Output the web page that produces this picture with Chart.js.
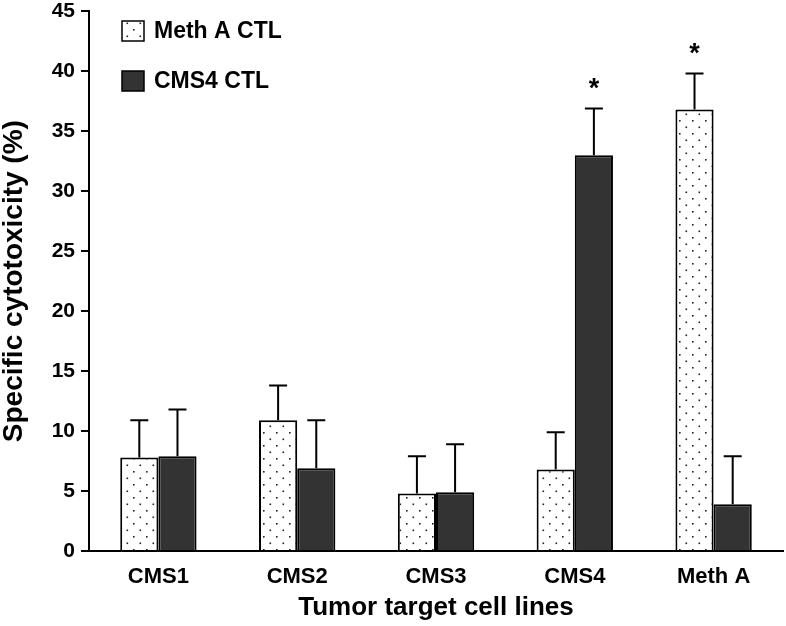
<!DOCTYPE html>
<html lang="en">
<head>
<meta charset="UTF-8">
<title>Specific cytotoxicity</title>
<style>
    body { margin: 0; background: #fff; }
    canvas { display: block; }
</style>
</head>
<body>
<canvas id="chart" width="786" height="626"></canvas>
<script src="https://cdn.jsdelivr.net/npm/chart.js"></script>
<script>
// data
const categories = ['CMS1', 'CMS2', 'CMS3', 'CMS4', 'Meth A'];
const methA = [7.8, 10.9, 4.8, 6.8, 36.8];
const methAErr = [3.1, 2.9, 3.1, 3.1, 3.0];
const cms4 = [7.9, 6.9, 4.9, 33.0, 3.9];
const cms4Err = [3.9, 4.0, 4.0, 3.9, 4.0];
// asterisks (significance) per bar
const methASig = [false, false, false, false, true];
const cms4Sig = [false, false, false, true, false];

const FONT = "'Liberation Sans', Arial, Helvetica, sans-serif";
Chart.defaults.font.family = FONT;
Chart.defaults.color = '#000';

const canvas = document.getElementById('chart');
const ctx = canvas.getContext('2d');

// dotted fill used for the Meth A CTL bars
function dotPattern() {
    const p = document.createElement('canvas');
    p.width = 13;
    p.height = 13;
    const c = p.getContext('2d');
    c.fillStyle = '#fff';
    c.fillRect(0, 0, 13, 13);
    c.fillStyle = '#222';
    c.fillRect(3, 3, 1.6, 1.6);
    c.fillRect(9.5, 9.5, 1.6, 1.6);
    return ctx.createPattern(p, 'repeat');
}
const dots = dotPattern();

const errorBars = {
    id: 'errorBars',
    afterDatasetsDraw(chart) {
        const c = chart.ctx;
        const y = chart.scales.y;
        c.save();
        c.strokeStyle = '#000';
        c.lineWidth = 2;
        chart.data.datasets.forEach((ds, i) => {
            const meta = chart.getDatasetMeta(i);
            meta.data.forEach((bar, j) => {
                const top = y.getPixelForValue(ds.data[j] + ds.errors[j]);
                c.beginPath();
                c.moveTo(bar.x, bar.y);
                c.lineTo(bar.x, top);
                c.moveTo(bar.x - 9, top);
                c.lineTo(bar.x + 9, top);
                c.stroke();
                if (ds.sig[j]) {
                    c.fillStyle = '#000';
                    c.font = 'bold 27px ' + FONT;
                    c.textAlign = 'center';
                    c.textBaseline = 'middle';
                    c.fillText('*', bar.x, top - 19);
                }
            });
        });
        c.restore();
    }
};

const boxLegend = {
    id: 'boxLegend',
    afterDraw(chart) {
        const c = chart.ctx;
        c.save();
        chart.data.datasets.forEach((ds, i) => {
            const top = 21 + i * 50;
            c.fillStyle = ds.backgroundColor;
            c.fillRect(122, top, 22, 20);
            c.strokeStyle = '#000';
            c.lineWidth = 1.5;
            c.strokeRect(122, top, 22, 20);
            c.fillStyle = '#000';
            c.font = 'bold 23px ' + FONT;
            c.textAlign = 'left';
            c.textBaseline = 'middle';
            c.fillText(ds.label, 154, top + 11);
        });
        c.restore();
    }
};

new Chart(ctx, {
    type: 'bar',
    data: {
        labels: categories,
        datasets: [
            {
                label: 'Meth A CTL',
                data: methA,
                errors: methAErr,
                sig: methASig,
                backgroundColor: dots,
                borderColor: '#000',
                borderWidth: 2
            },
            {
                label: 'CMS4 CTL',
                data: cms4,
                errors: cms4Err,
                sig: cms4Sig,
                backgroundColor: '#333333',
                borderColor: '#000',
                borderWidth: 2
            }
        ]
    },
    options: {
        responsive: false,
        animation: false,
        layout: { padding: { top: 11, right: 3, left: 0, bottom: 0 } },
        datasets: {
            bar: { categoryPercentage: 0.55, barPercentage: 1 }
        },
        plugins: {
            legend: { display: false },
            tooltip: { enabled: false }
        },
        scales: {
            x: {
                grid: { display: false, drawTicks: false },
                border: { color: '#000', width: 2 },
                ticks: { font: { size: 22, weight: 'bold' }, padding: 13 },
                title: {
                    display: true,
                    text: 'Tumor target cell lines',
                    font: { size: 26, weight: 'bold', lineHeight: 1 },
                    padding: { top: 0, bottom: 5 }
                },
                afterFit(s) { s.height = 75; }
            },
            y: {
                min: 0,
                max: 45,
                ticks: { stepSize: 5, font: { size: 21, weight: 'bold', lineHeight: 0.5 }, padding: 6 },
                grid: { drawOnChartArea: false, tickLength: 8, color: '#000', lineWidth: 2 },
                border: { color: '#000', width: 2 },
                title: {
                    display: true,
                    text: 'Specific cytotoxicity (%)',
                    font: { size: 28, weight: 'bold', lineHeight: 1 },
                    padding: 0
                },
                afterFit(s) { s.width = 89; }
            }
        }
    },
    plugins: [errorBars, boxLegend]
});
</script>
</body>
</html>
